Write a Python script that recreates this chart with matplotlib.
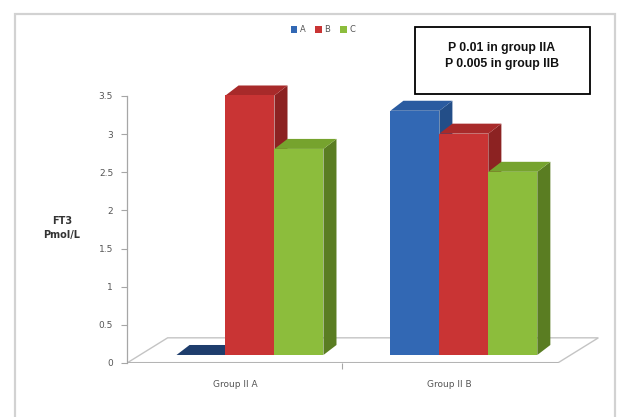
import numpy as np
import matplotlib
matplotlib.use('Agg')
import matplotlib.pyplot as plt
from matplotlib.patches import Polygon, Rectangle

# FT3 levels (Pmol/L) per group and series
groups = ['Group II A', 'Group II B']
series = ['A', 'B', 'C']
vals_a = [0.0, 3.2]
vals_b = [3.4, 2.9]
vals_c = [2.7, 2.4]
yticks = [0, 0.5, 1, 1.5, 2, 2.5, 3, 3.5]
note = 'P 0.01 in group IIA\nP 0.005 in group IIB'

# front / side / top shades for each series
front = ['#3268b4', '#c93434', '#8cbd3c']
side = ['#234e88', '#8c2222', '#5a7d22']
top = ['#2a5ba0', '#a82a2a', '#76a32e']

fig = plt.figure(figsize=(6.25, 4.17), dpi=100)
fig.patch.set_facecolor('white')
ax = fig.add_axes([127 / 625, 54 / 417, 478 / 625, 303 / 417])
ax.set_xlim(-0.505, 1.73)
ax.set_ylim(0, 3.97)

# floor of the 3d box
fdx, fdy = 0.19, 0.33
x0, x1 = -0.505, 1.509
floor = Polygon([(x0, 0), (x1, 0), (x1 + fdx, fdy), (x0 + fdx, fdy)],
                closed=True, facecolor='white', edgecolor='#c4c4c4',
                lw=1.0, zorder=1)
ax.add_patch(floor)
ax.plot([x0, x1], [0, 0], color='#b4b4b4', lw=2.2, zorder=1.5,
        solid_capstyle='butt')

# bars sit a little back inside the floor
w = 0.229
bx, by = 0.07, 0.105
dx, dy = 0.061, 0.131
data = [vals_a, vals_b, vals_c]
for i in range(len(groups)):
    for j in range(len(series)):
        v = data[j][i]
        left = i + (j - 1) * w - w / 2 + bx
        z = 2 + i * 3 + j
        ax.add_patch(Polygon([(left + w, by), (left + w + dx, by + dy),
                              (left + w + dx, by + v + dy), (left + w, by + v)],
                             closed=True, facecolor=side[j], edgecolor='none',
                             zorder=z))
        topc = '#1e3d6c' if v == 0 else top[j]
        ax.add_patch(Polygon([(left, by + v), (left + dx, by + v + dy),
                              (left + w + dx, by + v + dy), (left + w, by + v)],
                             closed=True, facecolor=topc, edgecolor='none',
                             zorder=z))
        if v > 0:
            ax.bar(left, v, bottom=by, width=w, align='edge', color=front[j],
                   edgecolor='none', zorder=z)

for s in ['top', 'right', 'bottom']:
    ax.spines[s].set_visible(False)
ax.spines['left'].set_bounds(0, 3.5)
ax.spines['left'].set_color('#a6a6a6')
ax.spines['left'].set_linewidth(0.9)
ax.set_yticks(yticks)
ax.set_yticklabels([f'{t:g}' for t in yticks])
ax.tick_params(axis='y', length=4, width=0.8, color='#a6a6a6',
               labelsize=6.5, labelcolor='#555555', pad=6)
ax.set_xticks([0, 1])
ax.set_xticklabels(groups)
ax.set_xticks([0.5], minor=True)
ax.tick_params(axis='x', which='major', length=0, labelsize=6.5,
               labelcolor='#555555', pad=12)
ax.tick_params(axis='x', which='minor', length=4, width=0.8, color='#a6a6a6')

fig.text(62 / 625, 1 - 228 / 417, 'FT3\nPmol/L', ha='center', va='center',
         fontsize=7, fontweight='bold', color='#333333', linespacing=1.4)

handles = [Rectangle((0, 0), 1, 1, facecolor=c, edgecolor='none') for c in front]
fig.legend(handles, series, loc='center', bbox_to_anchor=(323 / 625, 1 - 30 / 417),
           ncol=3, frameon=False, fontsize=6, labelcolor='#555555',
           handlelength=0.8, handleheight=0.8, handletextpad=0.3,
           columnspacing=1.2)

# note box with p-values
fig.patches.append(Rectangle((415 / 625, 1 - 94 / 417), 175 / 625, 67 / 417,
                             transform=fig.transFigure, fill=False,
                             edgecolor='black', lw=1.3))
fig.text(502 / 625, 1 - 56 / 417, note, ha='center', va='center',
         fontsize=8.8, fontweight='bold', family='Liberation Sans',
         linespacing=1.35, color='#111111')

# chart area frame
fig.patches.append(Rectangle((15 / 625, -0.05), 600 / 625, 1.05 - 14 / 417,
                             transform=fig.transFigure, fill=False,
                             edgecolor='#d2d2d2', lw=1.6))

fig.savefig('out.png', dpi=100)
